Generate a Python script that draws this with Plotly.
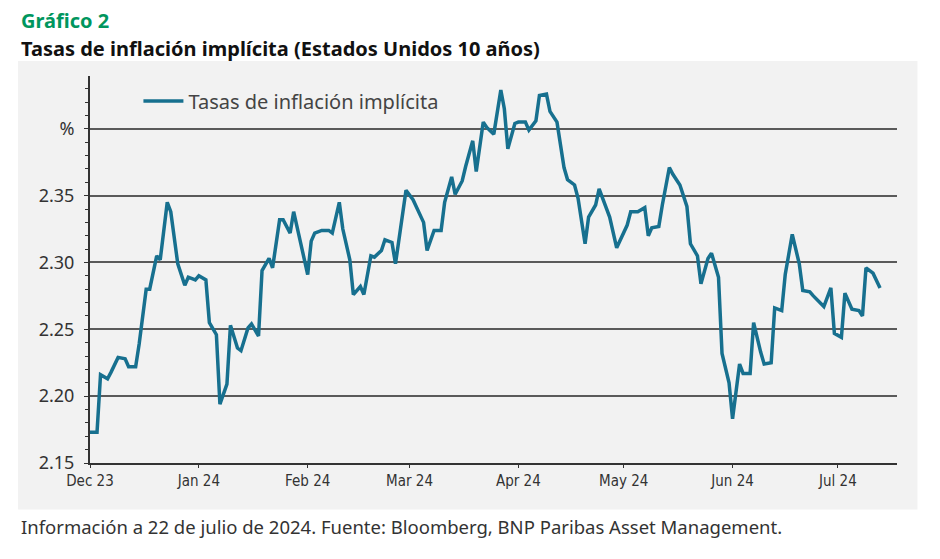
import plotly.graph_objects as go

# US 10y breakeven inflation
dates = [
    "2023-12-01", "2023-12-03", "2023-12-04", "2023-12-06", "2023-12-07", "2023-12-09",
    "2023-12-11", "2023-12-12", "2023-12-14", "2023-12-15", "2023-12-17", "2023-12-18",
    "2023-12-20", "2023-12-21", "2023-12-23", "2023-12-24", "2023-12-26", "2023-12-28",
    "2023-12-29", "2023-12-31", "2024-01-01", "2024-01-03", "2024-01-04", "2024-01-06",
    "2024-01-07", "2024-01-09", "2024-01-10", "2024-01-12", "2024-01-13", "2024-01-15",
    "2024-01-16", "2024-01-18", "2024-01-19", "2024-01-21", "2024-01-22", "2024-01-24",
    "2024-01-25", "2024-01-27", "2024-01-28", "2024-01-30", "2024-02-01", "2024-02-02",
    "2024-02-03", "2024-02-05", "2024-02-07", "2024-02-08", "2024-02-10", "2024-02-11",
    "2024-02-13", "2024-02-14", "2024-02-16", "2024-02-17", "2024-02-19", "2024-02-20",
    "2024-02-22", "2024-02-23", "2024-02-25", "2024-02-26", "2024-02-28", "2024-02-29",
    "2024-03-02", "2024-03-04", "2024-03-05", "2024-03-06", "2024-03-08", "2024-03-10",
    "2024-03-11", "2024-03-13", "2024-03-14", "2024-03-16", "2024-03-17", "2024-03-19",
    "2024-03-20", "2024-03-22", "2024-03-23", "2024-03-25", "2024-03-27", "2024-03-28",
    "2024-03-29", "2024-03-31", "2024-04-01", "2024-04-03", "2024-04-04", "2024-04-06",
    "2024-04-07", "2024-04-09", "2024-04-10", "2024-04-12", "2024-04-14", "2024-04-15",
    "2024-04-17", "2024-04-18", "2024-04-20", "2024-04-21", "2024-04-23", "2024-04-24",
    "2024-04-26", "2024-04-27", "2024-04-29", "2024-04-30", "2024-05-02", "2024-05-03",
    "2024-05-05", "2024-05-07", "2024-05-08", "2024-05-09", "2024-05-11", "2024-05-12",
    "2024-05-14", "2024-05-15", "2024-05-17", "2024-05-19", "2024-05-20", "2024-05-22",
    "2024-05-23", "2024-05-25", "2024-05-26", "2024-05-28", "2024-05-29", "2024-05-31",
    "2024-06-01", "2024-06-03", "2024-06-04", "2024-06-06", "2024-06-07", "2024-06-09",
    "2024-06-10", "2024-06-12", "2024-06-13", "2024-06-15", "2024-06-16", "2024-06-18",
    "2024-06-20", "2024-06-21", "2024-06-23", "2024-06-24", "2024-06-26", "2024-06-27",
    "2024-06-29", "2024-06-30", "2024-07-02", "2024-07-03", "2024-07-05", "2024-07-07",
    "2024-07-08", "2024-07-09", "2024-07-11", "2024-07-13",
]
breakeven = [
    2.173, 2.173, 2.216, 2.213, 2.218, 2.229,
    2.228, 2.222, 2.222, 2.239, 2.280, 2.280,
    2.305, 2.302, 2.345, 2.338, 2.299, 2.283,
    2.289, 2.287, 2.290, 2.287, 2.255, 2.246,
    2.194, 2.209, 2.253, 2.236, 2.234, 2.251,
    2.254, 2.245, 2.294, 2.303, 2.296, 2.332,
    2.332, 2.322, 2.338, 2.315, 2.291, 2.316,
    2.322, 2.324, 2.324, 2.322, 2.345, 2.325,
    2.302, 2.276, 2.282, 2.276, 2.305, 2.304,
    2.309, 2.317, 2.315, 2.299, 2.337, 2.354,
    2.347, 2.336, 2.330, 2.309, 2.324, 2.324,
    2.345, 2.364, 2.351, 2.361, 2.372, 2.391,
    2.368, 2.405, 2.401, 2.396, 2.429, 2.415,
    2.385, 2.404, 2.405, 2.405, 2.399, 2.406,
    2.425, 2.426, 2.413, 2.405, 2.371, 2.362,
    2.358, 2.348, 2.314, 2.334, 2.343, 2.355,
    2.340, 2.334, 2.311, 2.317, 2.328, 2.338,
    2.338, 2.341, 2.320, 2.326, 2.327, 2.343,
    2.371, 2.366, 2.358, 2.342, 2.314, 2.305,
    2.284, 2.303, 2.307, 2.289, 2.232, 2.210,
    2.183, 2.224, 2.217, 2.217, 2.255, 2.233,
    2.224, 2.225, 2.266, 2.264, 2.291, 2.321,
    2.299, 2.279, 2.278, 2.275, 2.270, 2.267,
    2.281, 2.247, 2.244, 2.277, 2.265, 2.264,
    2.260, 2.296, 2.292, 2.281,
]

y_ticks = [2.15, 2.20, 2.25, 2.30, 2.35, 2.40]
y_labels = ["2.15", "2.20", "2.25", "2.30", "2.35", "%"]

TEXT = "Noto Sans, Open Sans, sans-serif"
NARROW = "Liberation Sans Narrow, DejaVu Sans Condensed, sans-serif"

fig = go.Figure()
fig.add_trace(go.Scatter(
    x=dates, y=breakeven, mode="lines", name="Tasas de inflación implícita",
    line=dict(color="#17708f", width=3.5),
))

# grey panel behind the chart
fig.add_shape(type="rect", xref="paper", yref="paper",
              x0=-0.0892, x1=1.0254, y0=-0.12, y1=1.0387,
              fillcolor="#f2f2f2", line_width=0, layer="below")

# page body has an 8px margin, so the figure is a bit smaller than the window
fig.update_layout(
    width=932, height=551,
    margin=dict(l=81.5, r=43, t=68, b=95.5),
    paper_bgcolor="white", plot_bgcolor="#f2f2f2",
    showlegend=True,
    legend=dict(x=0.06, y=0.9355, xanchor="left", yanchor="middle",
                bgcolor="rgba(0,0,0,0)", font=dict(family=TEXT, size=20, color="#444"),
                itemwidth=40),
    font=dict(family=TEXT, color="#333"),
)

fig.update_xaxes(
    type="date", range=["2023-12-01", "2024-07-17 20:00"],
    dtick="M1", tick0="2023-12-01", tickformat="%b %y",
    ticks="outside", ticklen=3, tickcolor="#333",
    showline=True, linecolor="#333", linewidth=2,
    showgrid=False, zeroline=False,
    tickfont=dict(family=NARROW, size=15, color="#333"),
)
fig.update_yaxes(
    range=[2.15, 2.4395], tickvals=y_ticks, ticktext=y_labels,
    ticks="outside", ticklen=4, tickcolor="#333",
    showline=True, linecolor="#333", linewidth=2,
    showgrid=True, gridcolor="#5a5a5a", gridwidth=2,
    zeroline=False, ticklabelstandoff=6,
    minor=dict(dtick=0.01, ticks="outside", ticklen=3, tickcolor="#333", showgrid=False),
    tickfont=dict(family=TEXT, size=18, color="#333"),
)

fig.add_annotation(text="<b>Gráfico 2</b>", xref="paper", yref="paper",
                   x=-0.0879, y=1.1445, xanchor="left", yanchor="middle", showarrow=False,
                   font=dict(family=TEXT, size=20, color="#00965e"))
fig.add_annotation(text="<b>Tasas de inflación implícita (Estados Unidos 10 años)</b>",
                   xref="paper", yref="paper",
                   x=-0.0879, y=1.0723, xanchor="left", yanchor="middle", showarrow=False,
                   font=dict(family=TEXT, size=20, color="#111"))
fig.add_annotation(text="Información a 22 de julio de 2024. Fuente: Bloomberg, BNP Paribas Asset Management.",
                   xref="paper", yref="paper",
                   x=-0.0879, y=-0.1639, xanchor="left", yanchor="middle", showarrow=False,
                   font=dict(family=TEXT, size=18.5, color="#333"))

fig.write_html("out.html")
